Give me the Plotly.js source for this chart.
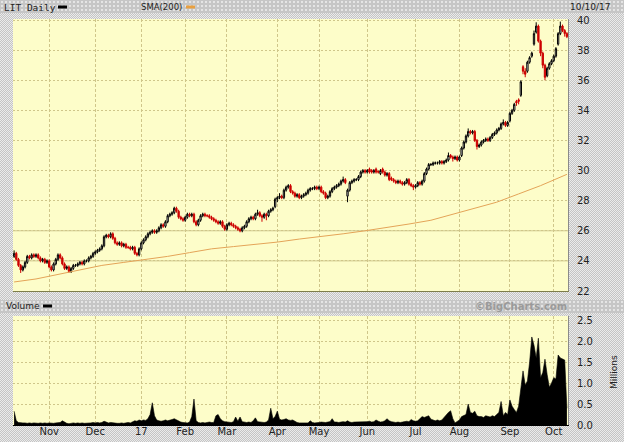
<!DOCTYPE html>
<html><head><meta charset="utf-8">
<script src="https://cdn.plot.ly/plotly-3.0.1.min.js"></script>
<style>
html,body{margin:0;padding:0;background:#d6d6d6;}
#wrap{position:relative;width:624px;height:442px;overflow:hidden;
 background: repeating-conic-gradient(#c4c4c4 0 25%, #ebebeb 0 50%) 0 0/2px 2px;}
.band{position:absolute;left:0;width:624px;
 background: radial-gradient(circle, #e6e6e6 0.7px, transparent 0.9px) 0 0/4px 4px, #c6c6c6;}
#chart{position:absolute;left:0;top:0;width:624px;height:442px;}
</style></head><body>
<div id="wrap">
<div class="band" style="top:0;height:13px"></div>
<div class="band" style="top:300px;height:13px"></div>
<div id="chart"></div>
</div>
<script>
// ---- DATA ----
const startDate = '2016-10-10';
const endDate = '2017-10-10';
const holidays = ['2016-11-24','2016-12-26','2017-01-02','2017-01-16','2017-02-20','2017-04-14','2017-05-29','2017-07-04','2017-09-04'];

const openP = [
 24.3,24.5,24.1,23.7,23.4,23.6,23.9,24.3,24.2,24.4,24.3,24.4,24.2,24.0,24.1,23.9,
 24.0,23.6,23.4,23.8,24.1,24.4,24.2,23.8,23.5,23.6,23.3,23.5,23.7,23.7,23.8,23.9,23.8,24.0,24.0,24.2,24.3,
 24.5,24.6,24.7,24.8,25.0,25.6,25.7,25.6,25.8,25.5,25.2,25.1,25.2,25.0,25.1,24.9,24.9,24.8,24.9,24.5,24.4,
 24.8,25.2,25.4,25.6,25.8,25.9,26.0,25.9,26.0,26.2,26.4,26.3,26.6,27.0,27.1,27.2,27.5,27.3,26.9,26.8,
 26.7,26.9,27.1,27.0,27.1,26.6,26.4,26.7,27.0,27.1,27.0,27.0,26.9,26.8,26.7,26.6,26.5,26.6,26.3,
 26.1,26.4,26.5,26.4,26.3,26.2,26.1,26.0,26.2,26.3,26.6,26.8,26.9,26.8,27.1,27.2,27.0,26.9,27.1,27.0,27.3,27.4,27.6,
 28.1,28.2,28.3,28.2,28.7,28.9,29.0,28.6,28.5,28.3,28.4,28.2,28.3,28.4,28.5,28.7,28.8,28.8,28.9,
 28.8,28.9,28.6,28.5,28.2,28.3,28.6,28.8,28.9,29.0,29.1,29.3,29.4,28.3,28.7,29.2,29.3,29.4,29.4,29.6,29.9,30.0,
 29.9,30.1,30.0,29.9,30.1,29.95,29.8,30.1,29.9,29.7,29.8,29.5,29.4,29.3,29.2,29.3,29.2,29.1,29.2,29.4,29.1,29.0,
 28.9,29.0,29.2,29.1,29.3,29.8,30.1,30.4,30.4,30.5,30.5,30.5,30.6,30.5,30.6,30.7,31.0,30.9,30.8,30.9,
 30.7,31.0,31.5,31.9,32.3,32.6,32.5,32.6,32.0,31.6,31.7,31.9,32.0,32.1,32.0,32.2,32.4,32.5,32.7,32.8,33.1,33.2,33.0,
 33.3,33.8,34.0,34.6,34.7,35.0,36.9,36.6,36.6,37.2,37.6,38.4,39.2,39.6,38.6,37.8,37.0,36.3,36.8,37.1,
 37.3,37.6,38.4,39.1,39.6,39.3,39.1
];
const highP = [
 24.7,24.6,24.2,23.8,23.7,24.0,24.4,24.4,24.5,24.5,24.5,24.5,24.3,24.2,24.2,24.1,
 24.1,23.7,23.9,24.2,24.5,24.5,24.3,23.9,23.7,23.7,23.6,23.8,23.8,23.9,24.0,24.0,24.1,24.1,24.3,24.4,24.6,
 24.7,24.8,24.9,25.1,25.7,25.8,25.8,25.9,25.9,25.6,25.3,25.3,25.3,25.2,25.2,25.0,25.0,25.0,25.0,24.6,24.9,
 25.3,25.5,25.7,25.9,26.0,26.1,26.1,26.1,26.3,26.5,26.5,26.7,27.1,27.2,27.3,27.6,27.6,27.4,27.0,26.9,
 27.0,27.2,27.2,27.2,27.2,26.7,26.8,27.1,27.2,27.2,27.1,27.1,27.0,26.9,26.8,26.7,26.7,26.7,26.4,
 26.5,26.6,26.6,26.5,26.4,26.3,26.2,26.3,26.4,26.7,26.9,27.0,27.0,27.2,27.4,27.3,27.1,27.2,27.2,27.4,27.5,27.6,28.2,
 28.3,28.5,28.4,28.8,29.0,29.1,29.1,28.7,28.6,28.5,28.5,28.4,28.5,28.6,28.8,28.9,28.9,29.0,29.0,
 29.0,29.0,28.7,28.6,28.4,28.7,28.9,29.0,29.1,29.2,29.4,29.6,29.5,28.8,29.3,29.4,29.5,29.5,29.7,30.0,30.1,30.1,
 30.1,30.2,30.1,30.1,30.2,30.0,30.1,30.2,30.0,29.9,29.9,29.6,29.5,29.4,29.4,29.4,29.3,29.3,29.5,29.5,29.2,29.1,
 29.1,29.3,29.3,29.4,29.9,30.2,30.5,30.5,30.6,30.6,30.6,30.7,30.7,30.7,30.8,31.2,31.1,31.0,31.0,31.0,
 31.0,31.6,32.0,32.4,32.8,32.7,32.7,32.7,32.1,31.8,32.0,32.1,32.2,32.2,32.3,32.5,32.6,32.8,32.9,33.2,33.4,33.3,33.3,
 33.9,34.1,34.5,34.7,34.8,36.0,37.0,36.8,37.3,37.6,37.9,39.3,39.85,39.7,38.7,37.9,37.1,36.9,37.2,37.4,
 37.7,38.2,39.2,39.9,39.7,39.4,39.2
];
const lowP = [
 24.2,24.0,23.6,23.2,23.3,23.5,23.8,24.1,24.1,24.2,24.2,24.1,23.9,23.9,23.8,23.8,
 23.5,23.3,23.3,23.7,24.0,24.1,23.7,23.4,23.4,23.2,23.2,23.4,23.6,23.6,23.7,23.7,23.7,23.9,23.9,24.1,24.2,
 24.4,24.5,24.6,24.7,24.9,25.5,25.5,25.5,25.4,25.1,25.0,25.0,24.9,24.9,24.8,24.8,24.7,24.7,24.4,24.3,24.3,
 24.7,25.1,25.3,25.5,25.7,25.8,25.8,25.8,25.9,26.1,26.2,26.2,26.5,26.9,27.0,27.1,27.2,26.8,26.7,26.6,
 26.6,26.8,26.9,26.9,26.5,26.3,26.3,26.6,26.9,26.9,26.9,26.8,26.7,26.6,26.5,26.4,26.4,26.2,26.0,
 26.0,26.3,26.3,26.2,26.1,26.0,25.9,25.9,26.1,26.2,26.5,26.7,26.7,26.7,27.0,26.9,26.6,26.8,26.7,26.9,27.2,27.3,27.5,
 27.9,28.1,28.1,28.1,28.6,28.8,28.5,28.4,28.2,28.2,28.1,28.1,28.2,28.3,28.4,28.6,28.7,28.7,28.7,
 28.7,28.5,28.4,28.1,28.1,28.2,28.5,28.7,28.8,28.9,29.0,29.2,29.1,27.9,28.6,29.1,29.2,29.3,29.3,29.5,29.8,29.8,
 29.8,29.8,29.8,29.8,29.8,29.8,29.7,29.8,29.6,29.6,29.3,29.3,29.2,29.1,29.1,29.1,29.0,29.0,29.1,29.0,28.9,28.7,
 28.8,28.9,29.0,29.0,29.2,29.7,30.0,30.3,30.3,30.4,30.4,30.4,30.4,30.4,30.5,30.6,30.8,30.6,30.7,30.6,
 30.6,30.9,31.4,31.8,32.2,32.4,32.4,31.9,31.4,31.5,31.6,31.8,31.9,31.9,31.9,32.1,32.3,32.4,32.6,32.7,33.0,32.9,32.9,
 33.2,33.7,33.9,34.3,34.4,34.9,36.4,36.2,36.5,37.1,37.5,38.3,39.1,38.5,37.6,36.8,36.0,36.2,36.7,37.0,
 37.2,37.5,38.3,39.0,39.2,38.9,38.8
];
const closeP = [
 24.5,24.1,23.7,23.4,23.6,23.9,24.3,24.2,24.4,24.3,24.4,24.2,24.0,24.1,23.9,24.0,
 23.6,23.4,23.8,24.1,24.4,24.2,23.8,23.5,23.6,23.3,23.5,23.7,23.7,23.8,23.9,23.8,24.0,24.0,24.2,24.3,24.5,
 24.6,24.7,24.8,25.0,25.6,25.7,25.6,25.8,25.5,25.2,25.1,25.2,25.0,25.1,24.9,24.9,24.8,24.9,24.5,24.4,24.8,
 25.2,25.4,25.6,25.8,25.9,26.0,25.9,26.0,26.2,26.4,26.3,26.6,27.0,27.1,27.2,27.5,27.3,26.9,26.8,26.7,
 26.9,27.1,27.0,27.1,26.6,26.4,26.7,27.0,27.1,27.0,27.0,26.9,26.8,26.7,26.6,26.5,26.6,26.3,26.1,
 26.4,26.5,26.4,26.3,26.2,26.1,26.0,26.2,26.3,26.6,26.8,26.9,26.8,27.1,27.2,27.0,26.9,27.1,27.0,27.3,27.4,27.5,28.1,
 28.2,28.3,28.2,28.7,28.9,29.0,28.6,28.5,28.3,28.4,28.2,28.3,28.4,28.5,28.7,28.8,28.8,28.9,28.8,
 28.9,28.6,28.5,28.2,28.3,28.6,28.8,28.9,29.0,29.1,29.3,29.4,29.2,28.7,29.2,29.3,29.4,29.4,29.6,29.9,30.0,29.9,
 30.0,29.9,29.9,30.0,29.9,29.9,30.0,29.9,29.7,29.8,29.4,29.4,29.3,29.2,29.3,29.2,29.1,29.2,29.4,29.1,29.0,28.9,
 29.0,29.2,29.1,29.3,29.8,30.1,30.4,30.4,30.5,30.5,30.5,30.6,30.5,30.6,30.7,31.0,30.9,30.8,30.9,30.7,
 30.9,31.5,31.9,32.3,32.6,32.5,32.6,32.0,31.6,31.7,31.9,32.0,32.1,32.0,32.2,32.4,32.5,32.7,32.8,33.1,33.2,33.0,33.2,
 33.8,34.0,34.4,34.5,34.6,35.9,36.6,36.4,37.2,37.5,37.8,39.1,39.6,38.6,37.8,37.0,36.2,36.8,37.1,37.3,
 37.6,38.1,39.1,39.6,39.3,39.1,38.9
];
// volume, millions of shares
const volumeM = [
 0.33,0.10,0.06,0.05,0.05,0.05,0.04,0.05,0.04,0.05,0.04,0.04,0.05,0.04,0.05,0.04,
 0.05,0.04,0.04,0.05,0.05,0.06,0.10,0.06,0.04,0.03,0.04,0.05,0.04,0.05,0.04,0.05,0.04,0.04,0.05,0.05,0.06,
 0.05,0.06,0.05,0.06,0.09,0.07,0.05,0.06,0.05,0.05,0.04,0.04,0.05,0.04,0.05,0.06,0.05,0.08,0.10,0.09,0.12,
 0.10,0.12,0.11,0.15,0.25,0.53,0.22,0.12,0.10,0.09,0.10,0.12,0.10,0.11,0.13,0.15,0.12,0.08,0.07,0.06,
 0.06,0.05,0.07,0.20,0.62,0.10,0.06,0.05,0.06,0.05,0.06,0.07,0.06,0.06,0.22,0.25,0.15,0.10,0.08,
 0.07,0.06,0.06,0.08,0.19,0.09,0.19,0.08,0.07,0.06,0.07,0.06,0.10,0.17,0.08,0.07,0.06,0.06,0.07,0.12,0.40,0.15,0.20,
 0.33,0.14,0.12,0.13,0.15,0.12,0.11,0.12,0.08,0.06,0.05,0.05,0.06,0.05,0.05,0.10,0.06,0.05,0.05,
 0.06,0.07,0.06,0.06,0.07,0.08,0.15,0.07,0.07,0.06,0.07,0.08,0.07,0.10,0.07,0.06,0.07,0.07,0.08,0.07,0.07,0.08,
 0.08,0.09,0.07,0.08,0.12,0.09,0.07,0.08,0.10,0.15,0.10,0.08,0.07,0.06,0.07,0.06,0.07,0.08,0.09,0.08,0.13,0.10,
 0.09,0.10,0.15,0.20,0.18,0.20,0.22,0.14,0.12,0.10,0.12,0.10,0.12,0.18,0.25,0.30,0.34,0.15,0.05,0.08,
 0.12,0.20,0.22,0.25,0.50,0.30,0.28,0.33,0.22,0.20,0.20,0.18,0.22,0.20,0.19,0.22,0.20,0.25,0.30,0.56,0.22,0.30,0.25,
 0.60,0.45,0.37,0.30,0.45,0.90,1.29,0.95,1.05,1.50,2.10,1.90,1.60,2.07,1.13,1.25,1.57,1.20,0.90,1.00,
 1.13,1.10,1.67,1.60,1.57,1.55,0.40
];
// 200-day simple moving average, read at every ~10th session (session index, value)
const smaIndex = [0,10,20,30,40,50,58,70,80,90,100,110,120,130,140,150,160,170,180,190,200,210,220,230,240,252];
const smaValue = [22.6,22.8,23.1,23.4,23.7,23.9,24.05,24.3,24.55,24.8,24.95,25.1,25.25,25.45,25.6,25.8,26.0,26.2,26.45,26.7,27.1,27.45,27.9,28.45,29.0,29.75];

const monthTickDates = ['2016-11-01','2016-12-01','2017-01-03','2017-02-01','2017-03-01','2017-04-03','2017-05-01','2017-06-01','2017-07-03','2017-08-01','2017-09-01','2017-10-02'];
const monthTickLabels = ['Nov','Dec','17','Feb','Mar','Apr','May','Jun','Jul','Aug','Sep','Oct'];
const priceTicks = [22,24,26,28,30,32,34,36,38,40];
const solidGridLevels = [24,26];
const volTicks = [0,0.5,1.0,1.5,2.0,2.5];
const volTickLabels = ['0.0','0.5','1.0','1.5','2.0','2.5'];

// ---- trading calendar ----
function tradingDays(s, e, hol) {
  const out = [];
  const d = new Date(s + 'T00:00:00Z'), end = new Date(e + 'T00:00:00Z');
  while (d <= end) {
    const wd = d.getUTCDay();
    const iso = d.toISOString().slice(0, 10);
    if (wd !== 0 && wd !== 6 && hol.indexOf(iso) < 0) out.push(iso);
    d.setUTCDate(d.getUTCDate() + 1);
  }
  return out;
}
const dates = tradingDays(startDate, endDate, holidays);

// ---- layout helpers (pixel -> paper) ----
const L = 13, R = 568, T = 19, B = 425;
const px = x => (x - L) / (R - L);
const py = y => (B - y) / (B - T);

const gridCol = '#cfc68a';
const font = {family: 'DejaVu Sans, Verdana, sans-serif', size: 10, color: '#222'};
const headFont = {family: 'DejaVu Sans, Verdana, sans-serif', size: 8.5, color: '#222'};
const monoFont = {family: 'DejaVu Sans Mono, monospace', size: 9.5, color: '#222'};

const traces = [
  {
    type: 'candlestick', x: dates, open: openP, high: highP, low: lowP, close: closeP,
    xaxis: 'x', yaxis: 'y', whiskerwidth: 0,
    increasing: {line: {color: '#000000', width: 1}, fillcolor: '#ffffff'},
    decreasing: {line: {color: '#cc0000', width: 1}, fillcolor: '#cc0000'},
    showlegend: false, hoverinfo: 'skip'
  },
  {
    type: 'scatter', mode: 'lines', x: smaIndex.map(i => dates[i]), y: smaValue,
    xaxis: 'x', yaxis: 'y', line: {color: '#e4a458', width: 1}, showlegend: false, hoverinfo: 'skip'
  },
  {
    type: 'scatter', mode: 'lines', x: dates, y: volumeM, xaxis: 'x2', yaxis: 'y2',
    fill: 'tozeroy', fillcolor: '#000000', line: {color: '#000000', width: 0.6, shape: 'linear'},
    showlegend: false, hoverinfo: 'skip'
  }
];

const gridShapes = solidGridLevels.map(v => ({
  type: 'line', xref: 'paper', yref: 'y', x0: 0, x1: 1, y0: v, y1: v,
  line: {color: '#cfc88e', width: 1}, layer: 'below'
}));

const layout = {
  width: 624, height: 442,
  margin: {l: L, r: 624 - R, t: T, b: 442 - B, pad: 0},
  paper_bgcolor: 'rgba(0,0,0,0)',
  plot_bgcolor: '#fdfdc9',
  font: font,
  showlegend: false,
  boxgap: 0.15,
  xaxis: {
    type: 'category', domain: [0, 1], anchor: 'y', range: [-0.5, dates.length - 0.5],
    tickvals: monthTickDates, ticktext: monthTickLabels, showticklabels: false, ticks: '',
    showgrid: true, gridcolor: gridCol, griddash: '3px,2px', gridwidth: 1,
    showline: true, linecolor: '#7d7d4a', linewidth: 1,
    rangeslider: {visible: false}, fixedrange: true
  },
  yaxis: {
    domain: [py(291), 1], range: [22, 40.07], side: 'right', anchor: 'x',
    tickvals: priceTicks, ticks: '', ticklabelstandoff: 6,
    showgrid: true, gridcolor: gridCol, griddash: '2px,2px', zeroline: false,
    showline: true, linecolor: '#8a8a8a', linewidth: 1, tickfont: font
  },
  xaxis2: {
    type: 'category', domain: [0, 1], anchor: 'y2', range: [-0.5, dates.length - 0.5],
    tickvals: monthTickDates, ticktext: monthTickLabels, ticks: '', ticklabelstandoff: -3,
    showgrid: true, gridcolor: gridCol, griddash: '3px,2px',
    showline: true, linecolor: '#000000', linewidth: 1, tickfont: font
  },
  yaxis2: {
    domain: [0, py(316)], range: [0, 2.6], side: 'right', anchor: 'x2',
    tickvals: volTicks, ticktext: volTickLabels, ticks: '', ticklabelstandoff: 6,
    showgrid: true, gridcolor: gridCol, griddash: '2px,2px', zeroline: false,
    showline: true, linecolor: '#8a8a8a', linewidth: 1, tickfont: font
  },
  shapes: gridShapes.concat([
    {type: 'rect', xref: 'paper', yref: 'paper', x0: px(58), x1: px(67), y0: py(8.5), y1: py(5.5), line: {width: 0}, fillcolor: '#000'},
    {type: 'rect', xref: 'paper', yref: 'paper', x0: px(186), x1: px(195), y0: py(8.5), y1: py(5.5), line: {width: 0}, fillcolor: '#e8a040'},
    {type: 'rect', xref: 'paper', yref: 'paper', x0: px(43), x1: px(52), y0: py(307.5), y1: py(304.5), line: {width: 0}, fillcolor: '#000'}
  ]),
  annotations: [
    {xref: 'paper', yref: 'paper', x: px(2), y: py(7), xanchor: 'left', yanchor: 'middle', text: 'LIT Daily', showarrow: false, font: monoFont},
    {xref: 'paper', yref: 'paper', x: px(139), y: py(7), xanchor: 'left', yanchor: 'middle', text: 'SMA(200)', showarrow: false, font: headFont},
    {xref: 'paper', yref: 'paper', x: px(612), y: py(7), xanchor: 'right', yanchor: 'middle', text: '10/10/17', showarrow: false, font: {family: font.family, size: 9, color: '#222'}},
    {xref: 'paper', yref: 'paper', x: px(4), y: py(306), xanchor: 'left', yanchor: 'middle', text: 'Volume', showarrow: false, font: {family: font.family, size: 9, color: '#222'}},
    {xref: 'paper', yref: 'paper', x: px(569), y: py(306), xanchor: 'right', yanchor: 'middle', text: '<b>©BigCharts.com</b>', showarrow: false,
     font: {family: font.family, size: 10, color: '#9a9a9a'}},
    {xref: 'paper', yref: 'paper', x: px(614), y: py(372), xanchor: 'center', yanchor: 'middle', text: 'Millions', textangle: -90, showarrow: false, font: {family: font.family, size: 9, color: '#222'}}
  ]
};

Plotly.newPlot('chart', traces, layout, {staticPlot: true, displayModeBar: false});
</script>
</body></html>
